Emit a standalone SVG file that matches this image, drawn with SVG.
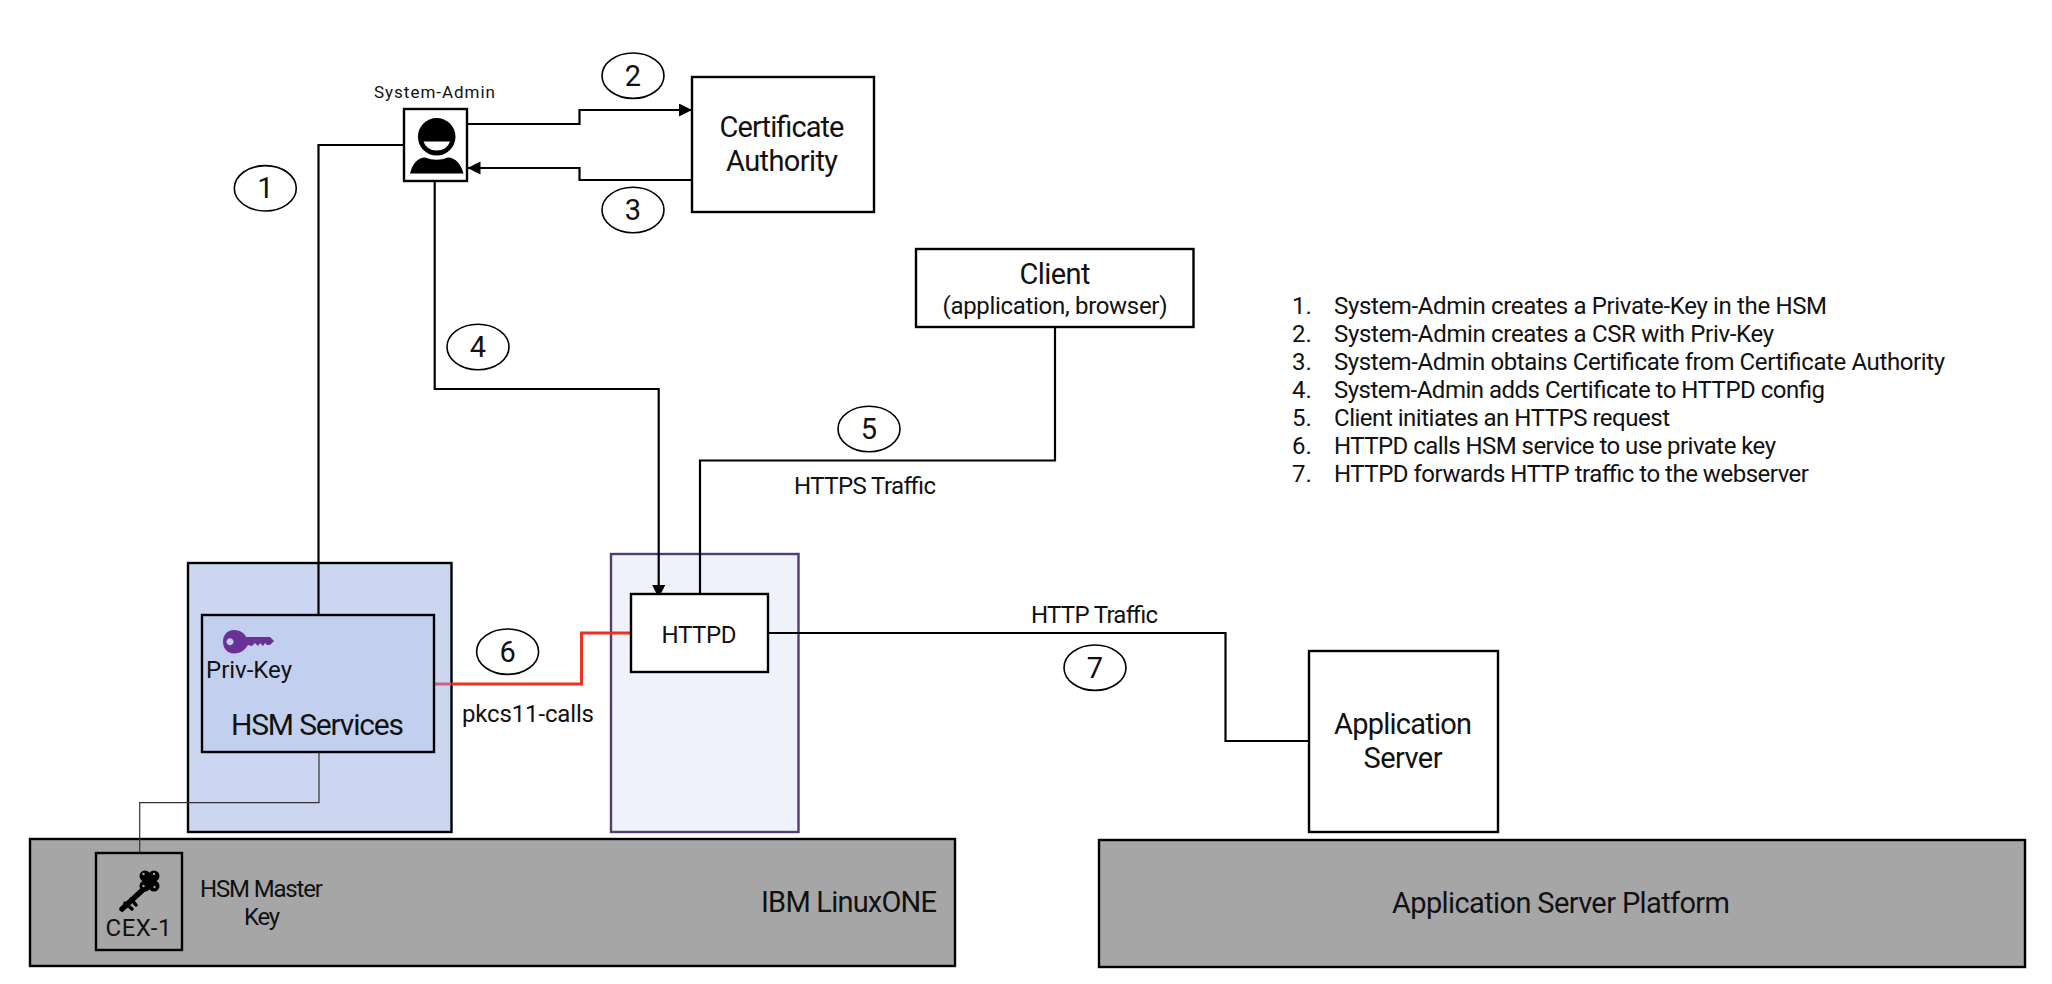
<svg xmlns="http://www.w3.org/2000/svg" width="2052" height="984" viewBox="0 0 2052 984">
<style>
text{font-family:Roboto,"Noto Sans","Liberation Sans",sans-serif;fill:#111;font-weight:400}
.box{stroke:#000;stroke-width:2.4;fill:#fff}
.grey{fill:#a6a6a6}
.num{fill:#fff;stroke:#000;stroke-width:1.6}
.c{fill:none;stroke:#000;stroke-width:2.2}
.m{text-anchor:middle}
.s23{font-size:24px}
.s27{font-size:29px}
.n{font-size:29px;text-anchor:middle}
</style>
<defs>
<marker id="arr" markerUnits="userSpaceOnUse" markerWidth="14" markerHeight="14" refX="13" refY="6.5" orient="auto"><path d="M0 0L13 6.5L0 13Z" fill="#000"/></marker>
</defs>
<rect width="2052" height="984" fill="#fff"/>
<g id="linuxone"><rect class="box grey" x="30" y="839" width="925" height="127"/><text class="s27" x="761" y="912" textLength="176">IBM LinuxONE</text></g>
<g id="platform"><rect class="box grey" x="1099" y="840" width="926" height="127"/><text class="s27" x="1392" y="913" textLength="338">Application Server Platform</text></g>
<g id="hsm-host"><rect class="box" style="fill:#ccd6f1" x="188" y="563" width="263.500" height="269"/></g>
<g id="httpd-host"><rect x="611" y="554" width="187.500" height="278" fill="#eff2fb" stroke="#523c78" stroke-width="2.400"/></g>
<g id="connectors">
<path class="c" d="M404 145H318.500V615"/>
<path class="c" marker-end="url(#arr)" d="M467 124H579.500V110H692"/>
<path class="c" marker-end="url(#arr)" d="M692 180H579.500V168H467.500"/>
<path class="c" marker-end="url(#arr)" d="M434.700 181V389H658.700V598"/>
<path class="c" d="M1055 327V460.500H700V594"/>
<path class="c" d="M768 633H1225.500V741H1309"/>
<path fill="none" stroke="#ef3124" stroke-width="3" d="M451.500 684H581.500V633H631"/>
<path fill="none" stroke="#c4667f" stroke-width="3" d="M434 684H451"/>
<path fill="none" stroke="#333" stroke-width="1.200" d="M319 752V802.700H139.700V853"/>
</g>
<g id="admin">
<rect class="box" x="404" y="109" width="63" height="72"/>
<text x="374" y="98" font-size="17" textLength="121">System-Admin</text>
<circle cx="436.700" cy="136.800" r="18.800"/>
<path d="M423.500 141.500H450Q447 150.500 436.700 150.500Q426.500 150.500 423.500 141.500Z" fill="#fff"/>
<path d="M410 173.500Q414 158 425 157.500Q436.700 162 448 157.500Q459 158 463.500 173.500Z"/>
</g>
<g id="ca"><rect class="box" x="692" y="77" width="182" height="135"/><text class="s27 m" x="782" y="137" textLength="125">Certificate</text><text class="s27 m" x="782" y="171" textLength="112">Authority</text></g>
<g id="client"><rect class="box" x="916" y="249" width="277.500" height="78"/><text class="s27 m" x="1055" y="283.500" textLength="71">Client</text><text class="s23 m" x="1055" y="313.500" textLength="225">(application, browser)</text></g>
<g id="hsm">
<rect class="box" style="fill:#c3cfee" x="202" y="615" width="232" height="137"/>
<path fill="#6a3195" fill-rule="evenodd" d="M234 630C241 630 245 634 246 637H270L274 641L270 645H267L265 643L263 646L260 643L258 646L255 643L252 646L248 645C245 650 240 653.500 234 653.500C227 653.500 223 648 223 641.700C223 635.500 227 630 234 630ZM230 638.200a3.500 3.500 0 1 0 .01 0Z"/>
<text x="206" y="678" font-size="24" textLength="86">Priv-Key</text>
<text class="s27" x="231" y="735" textLength="173" style="font-size:30px">HSM Services</text>
</g>
<g id="httpd"><rect class="box" x="631" y="594" width="137" height="78"/><text class="s23" x="661.500" y="643" textLength="75">HTTPD</text></g>
<g id="appserver"><rect class="box" x="1309" y="651" width="189" height="181"/><text class="s27 m" x="1403" y="734" textLength="138">Application</text><text class="s27 m" x="1403" y="768" textLength="79">Server</text></g>
<g id="cex">
<rect class="box" style="fill:none" x="96" y="853" width="86" height="97"/>
<g>
<circle cx="145" cy="876" r="5.500"/><circle cx="154" cy="876" r="5.500"/><circle cx="145" cy="886" r="5.500"/><circle cx="154" cy="886" r="5.500"/><rect x="145" y="876" width="9" height="10"/>
<path d="M147 886L122 909" fill="none" stroke="#000" stroke-width="5.500" stroke-linecap="round"/>
<path d="M125 903L132 909M131 899L136 905" fill="none" stroke="#000" stroke-width="3.500" stroke-linecap="round"/>
<g fill="#a6a6a6"><circle cx="143.500" cy="874" r="1.200"/><circle cx="154" cy="874" r="1.200"/><circle cx="143.500" cy="886" r="1.200"/><circle cx="154.500" cy="887" r="1.200"/></g>
</g>
<text x="105.500" y="936" font-size="24" textLength="66">CEX-1</text>
</g>
<g id="labels">
<text x="200" y="897" class="s23" textLength="123">HSM Master</text>
<text x="244" y="925" class="s23" textLength="36">Key</text>
<text x="794" y="494" class="s23" textLength="142">HTTPS Traffic</text>
<text x="1031" y="623" class="s23" textLength="127">HTTP Traffic</text>
<text x="462" y="722" class="s23" textLength="132">pkcs11-calls</text>
</g>
<g id="step1"><ellipse class="num" cx="265.300" cy="188.300" rx="31" ry="22.700"/><text class="n" x="265.300" y="198">1</text></g>
<g id="step2"><ellipse class="num" cx="633" cy="75.700" rx="31" ry="22.700"/><text class="n" x="633" y="85.500">2</text></g>
<g id="step3"><ellipse class="num" cx="633" cy="210" rx="31" ry="22.700"/><text class="n" x="633" y="220">3</text></g>
<g id="step4"><ellipse class="num" cx="478" cy="347" rx="31" ry="22.700"/><text class="n" x="478" y="357">4</text></g>
<g id="step5"><ellipse class="num" cx="869" cy="429" rx="31" ry="22.700"/><text class="n" x="869" y="439">5</text></g>
<g id="step6"><ellipse class="num" cx="507.600" cy="651.700" rx="31" ry="22.700"/><text class="n" x="507.600" y="661.500">6</text></g>
<g id="step7"><ellipse class="num" cx="1095" cy="667.700" rx="31" ry="22.700"/><text class="n" x="1095" y="677.500">7</text></g>
<g id="legend" class="s23">
<text x="1292" y="314">1.</text><text x="1334" y="314" textLength="493">System-Admin creates a Private-Key in the HSM</text>
<text x="1292" y="342">2.</text><text x="1334" y="342" textLength="440">System-Admin creates a CSR with Priv-Key</text>
<text x="1292" y="370">3.</text><text x="1334" y="370" textLength="611">System-Admin obtains Certificate from Certificate Authority</text>
<text x="1292" y="397.500">4.</text><text x="1334" y="397.500" textLength="491">System-Admin adds Certificate to HTTPD config</text>
<text x="1292" y="425.500">5.</text><text x="1334" y="425.500" textLength="336">Client initiates an HTTPS request</text>
<text x="1292" y="453.500">6.</text><text x="1334" y="453.500" textLength="442">HTTPD calls HSM service to use private key</text>
<text x="1292" y="481.500">7.</text><text x="1334" y="481.500" textLength="475">HTTPD forwards HTTP traffic to the webserver</text>
</g>
</svg>
